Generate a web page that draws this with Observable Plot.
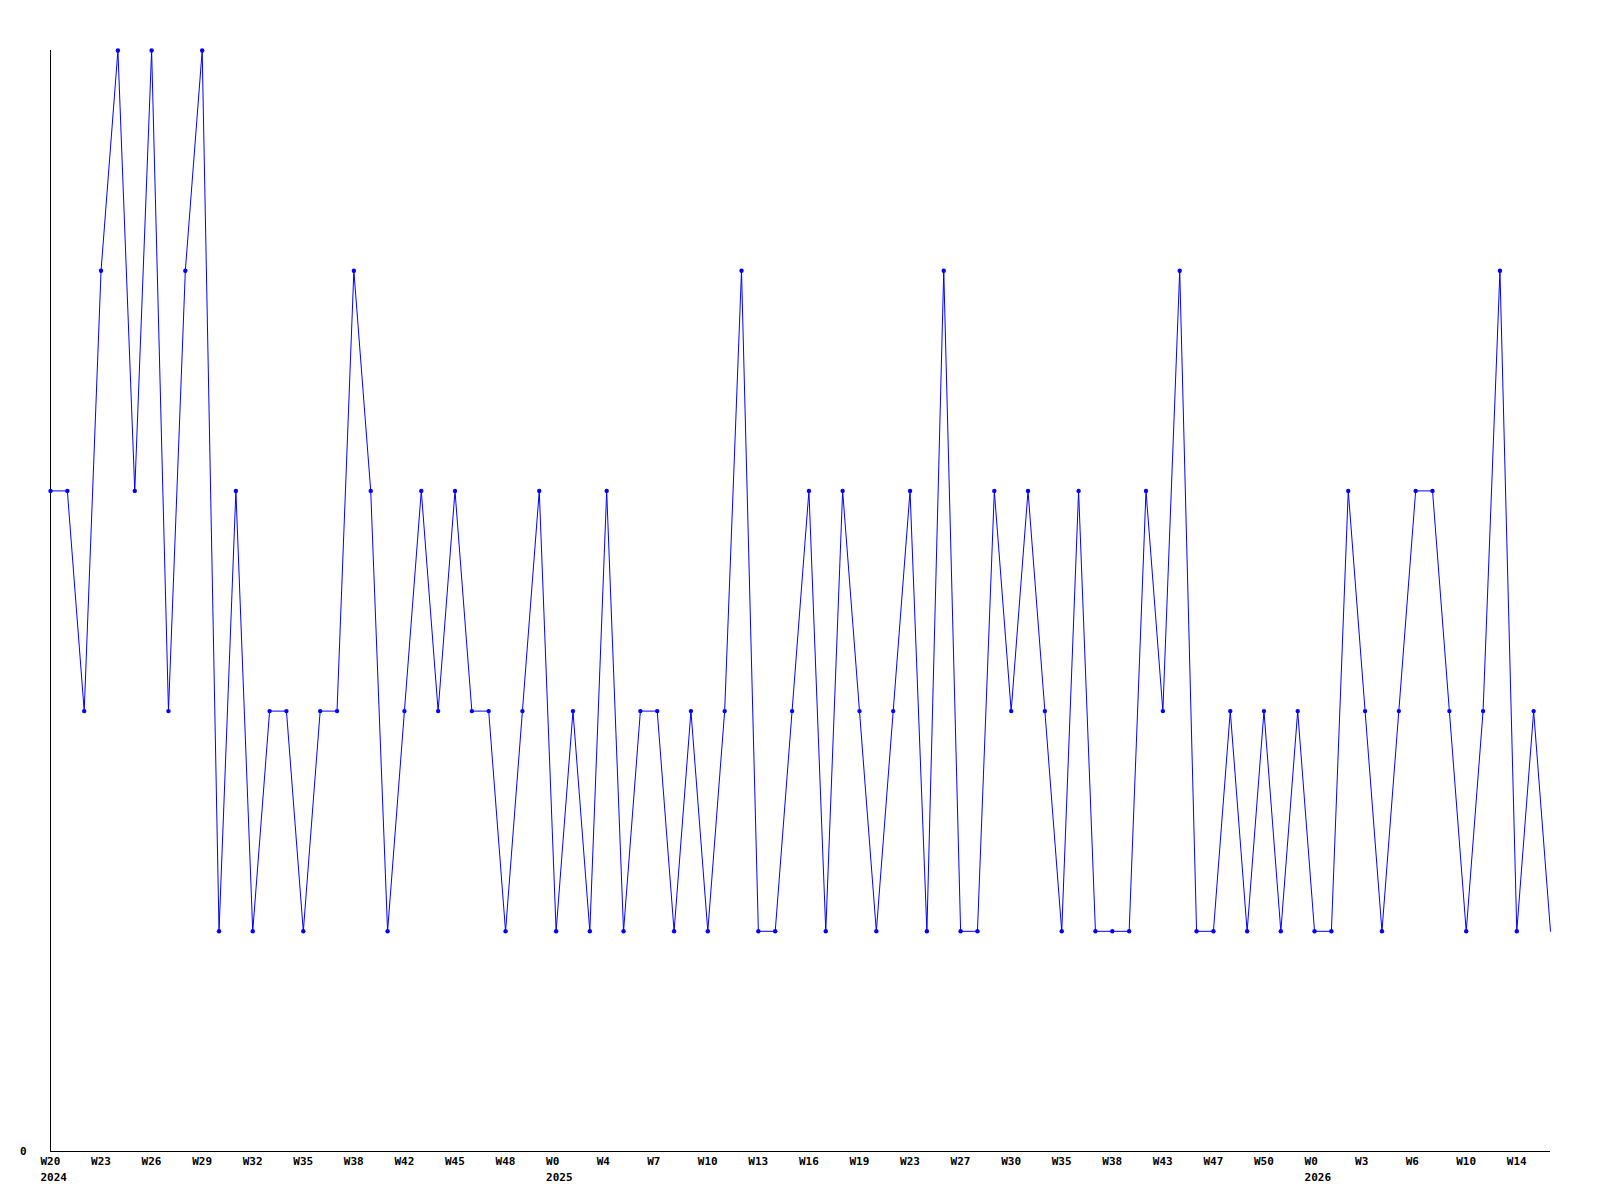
<!DOCTYPE html>
<html>
<head>
<meta charset="utf-8">
<script src="https://cdn.jsdelivr.net/npm/d3@7"></script>
<script src="https://cdn.jsdelivr.net/npm/@observablehq/plot@0.6"></script>
<style>
  html, body { margin: 0; padding: 0; background: #fff; }
  #chart svg { display: block; }
</style>
</head>
<body>
<div id="chart"></div>
<script>
// Weekly values (one per week, from 2024 W20 onward)
const values = [
  3, 3, 2, 4, 5, 3, 5, 2, 4, 5,
  1, 3, 1, 2, 2, 1, 2, 2, 4, 3,
  1, 2, 3, 2, 3, 2, 2, 1, 2, 3,
  1, 2, 1, 3, 1, 2, 2, 1, 2, 1,
  2, 4, 1, 1, 2, 3, 1, 3, 2, 1,
  2, 3, 1, 4, 1, 1, 3, 2, 3, 2,
  1, 3, 1, 1, 1, 3, 2, 4, 1, 1,
  2, 1, 2, 1, 2, 1, 1, 3, 2, 1,
  2, 3, 3, 2, 1, 2, 4, 1, 2, 1
];
// Tick labels shown every third week
const weekLabels = ["W20","W23","W26","W29","W32","W35","W38","W42","W45","W48",
  "W0","W4","W7","W10","W13","W16","W19","W23","W27","W30",
  "W35","W38","W43","W47","W50","W0","W3","W6","W10","W14"];
const yearLabels = {0: "2024", 10: "2025", 25: "2026"};
const tickStep = 3;

const data = values.map((v, i) => ({i, v}));
const ticks = weekLabels.map((w, k) => ({
  i: k * tickStep,
  label: yearLabels[k] ? w + "\n" + yearLabels[k] : w
}));
const font = "'DejaVu Sans Mono', monospace";

const chart = Plot.plot({
  width: 1600,
  height: 1200,
  marginLeft: 50,
  marginRight: 50,
  marginTop: 50,
  marginBottom: 49,
  style: {fontFamily: font, fontSize: "11px", fontWeight: "bold", background: "#fff"},
  x: {domain: [0, values.length - 1], axis: null},
  y: {domain: [0, 5], axis: null},
  marks: [
    Plot.ruleX([0], {y1: 0, y2: 5, stroke: "#000", strokeWidth: 1}),
    Plot.ruleY([0], {x1: 0, x2: values.length - 1, stroke: "#000", strokeWidth: 1}),
    Plot.text([0], {x: 0, y: 0, text: () => "0", textAnchor: "end", dx: -24, fill: "#000"}),
    Plot.text(ticks, {
      x: "i", y: 0, text: "label", textAnchor: "start", dx: -10, dy: 3,
      lineAnchor: "top", lineHeight: 1.4, fill: "#000"
    }),
    Plot.line(data, {x: "i", y: "v", stroke: "#0000ff", strokeWidth: 1}),
    Plot.dot(data.slice(0, -1), {x: "i", y: "v", r: 2.2, fill: "#0000ff", stroke: "none"})
  ]
});
document.getElementById("chart").appendChild(chart);
</script>
</body>
</html>
